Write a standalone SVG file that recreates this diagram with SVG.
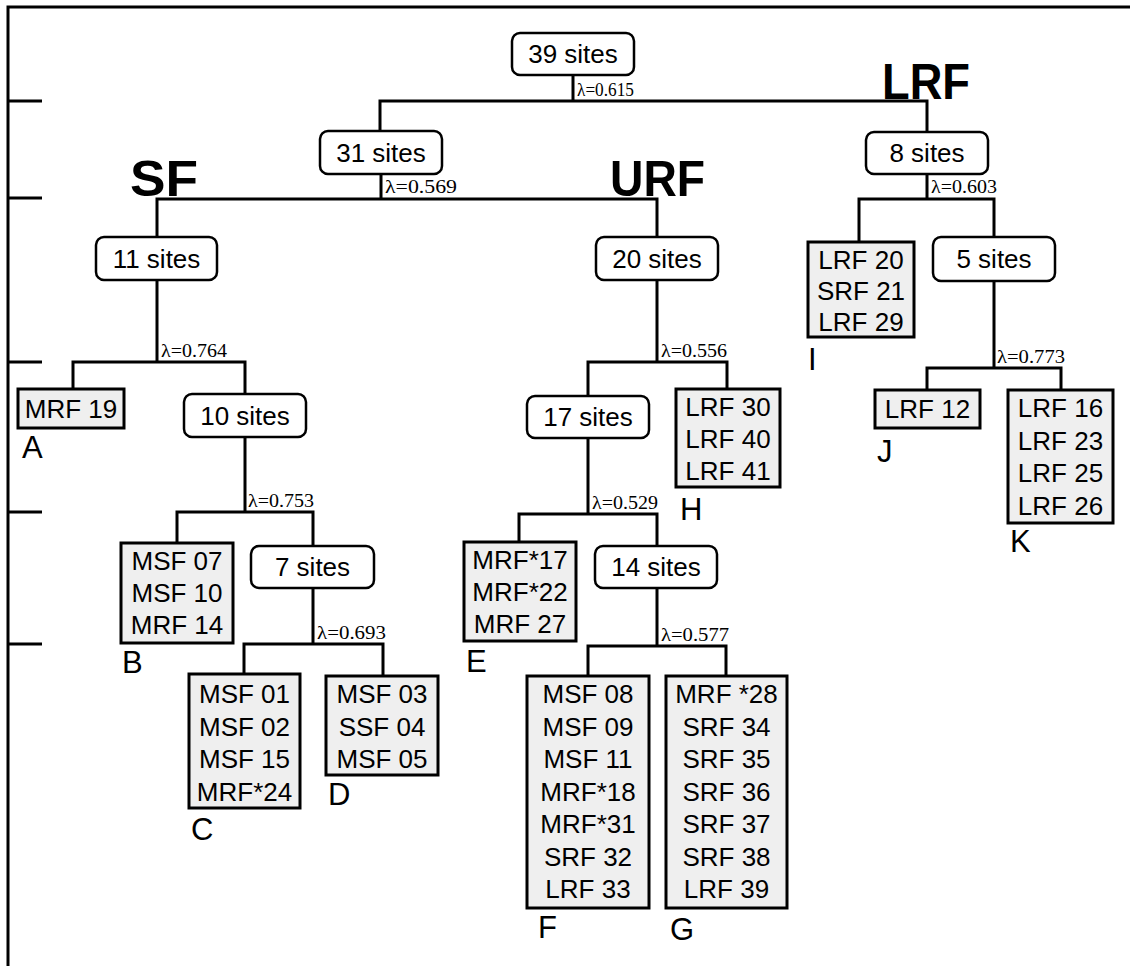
<svg xmlns="http://www.w3.org/2000/svg" width="1130" height="966" viewBox="0 0 1130 966">
<style>
.frame{fill:none;stroke:#000;stroke-width:3}
.ln{fill:none;stroke:#000;stroke-width:3;stroke-linecap:square}
.site{fill:#fff;stroke:#000;stroke-width:2.5}
.leaf{fill:#efefef;stroke:#000;stroke-width:3}
.t{font-family:"Liberation Sans",Arial,sans-serif;font-size:26px;fill:#000;text-anchor:middle}
.lam{font-family:"Liberation Serif","Times New Roman",serif;font-size:19px;fill:#000}
.big{font-family:"Liberation Sans",Arial,sans-serif;font-size:50px;font-weight:bold;fill:#000}
.let{font-family:"Liberation Sans",Arial,sans-serif;font-size:31px;fill:#000}
</style>
<rect width="1130" height="966" fill="#fff"/>
<g id="frame">
<path class="frame" d="M8,966 V7 H1130"/>
<path class="frame" d="M8,101 H42 M8,198 H42 M8,362 H42 M8,512 H42 M8,644 H42"/>
</g>
<g id="connectors">
<path class="ln" d="M573,75 V101 M380,101 H927 M380,101 V131 M927,101 V132"/>
<path class="ln" d="M381,174 V199 M157,199 H657 M157,199 V237 M657,199 V237"/>
<path class="ln" d="M927,174 V199 M859,199 H994 M859,199 V242 M994,199 V237"/>
<path class="ln" d="M157,280 V362 M73,362 H245 M73,362 V389 M245,362 V394"/>
<path class="ln" d="M245,437 V512 M177,512 H313 M177,512 V543 M313,512 V546"/>
<path class="ln" d="M313,588 V644 M244,644 H383 M244,644 V674 M383,644 V676"/>
<path class="ln" d="M657,280 V362 M588,362 H727 M588,362 V396 M727,362 V389"/>
<path class="ln" d="M588,438 V514 M519,514 H657 M519,514 V542 M657,514 V546"/>
<path class="ln" d="M657,588 V646 M588,646 H726 M588,646 V676 M726,646 V676"/>
<path class="ln" d="M994,281 V368 M927,368 H1061 M927,368 V390 M1061,368 V390"/>
<text class="lam" x="577" y="96" textLength="57" lengthAdjust="spacingAndGlyphs">λ=0.615</text>
<text class="lam" x="385" y="193" textLength="72" lengthAdjust="spacingAndGlyphs">λ=0.569</text>
<text class="lam" x="931" y="193" textLength="66" lengthAdjust="spacingAndGlyphs">λ=0.603</text>
<text class="lam" x="161" y="357" textLength="66" lengthAdjust="spacingAndGlyphs">λ=0.764</text>
<text class="lam" x="661" y="357" textLength="66" lengthAdjust="spacingAndGlyphs">λ=0.556</text>
<text class="lam" x="997" y="363" textLength="68" lengthAdjust="spacingAndGlyphs">λ=0.773</text>
<text class="lam" x="248" y="507" textLength="66" lengthAdjust="spacingAndGlyphs">λ=0.753</text>
<text class="lam" x="592" y="509" textLength="66" lengthAdjust="spacingAndGlyphs">λ=0.529</text>
<text class="lam" x="317" y="639" textLength="69" lengthAdjust="spacingAndGlyphs">λ=0.693</text>
<text class="lam" x="661" y="641" textLength="68" lengthAdjust="spacingAndGlyphs">λ=0.577</text>
</g>
<g id="groups">
<text class="big" x="130" y="196" textLength="68" lengthAdjust="spacingAndGlyphs">SF</text>
<text class="big" x="610" y="196" textLength="95" lengthAdjust="spacingAndGlyphs">URF</text>
<text class="big" x="882" y="99" textLength="88" lengthAdjust="spacingAndGlyphs">LRF</text>
</g>
<g id="n39"><rect class="site" x="512" y="33" width="122" height="42" rx="8"/><text class="t" x="573" y="63">39 sites</text></g>
<g id="n31"><rect class="site" x="320" y="131" width="122" height="43" rx="8"/><text class="t" x="381" y="162">31 sites</text></g>
<g id="n8"><rect class="site" x="866" y="132" width="122" height="42" rx="8"/><text class="t" x="927" y="162">8 sites</text></g>
<g id="n11"><rect class="site" x="96" y="237" width="121" height="43" rx="8"/><text class="t" x="156.5" y="268">11 sites</text></g>
<g id="n20"><rect class="site" x="596" y="237" width="122" height="43" rx="8"/><text class="t" x="657" y="268">20 sites</text></g>
<g id="n5"><rect class="site" x="933" y="237" width="122" height="44" rx="8"/><text class="t" x="994" y="268">5 sites</text></g>
<g id="n10"><rect class="site" x="184" y="394" width="122" height="43" rx="8"/><text class="t" x="245" y="425">10 sites</text></g>
<g id="n17"><rect class="site" x="527" y="396" width="122" height="42" rx="8"/><text class="t" x="588" y="426">17 sites</text></g>
<g id="n7"><rect class="site" x="251" y="546" width="123" height="42" rx="8"/><text class="t" x="312.5" y="576">7 sites</text></g>
<g id="n14"><rect class="site" x="595" y="546" width="122" height="42" rx="8"/><text class="t" x="656" y="576">14 sites</text></g>
<g id="leafA"><rect class="leaf" x="18" y="389" width="106" height="39"/><text class="t" x="71" y="418">MRF 19</text><text class="let" x="22" y="458">A</text></g>
<g id="leafB"><rect class="leaf" x="121" y="543" width="112" height="100"/><text class="t" x="177" y="570">MSF 07</text><text class="t" x="177" y="602">MSF 10</text><text class="t" x="177" y="634">MRF 14</text><text class="let" x="122" y="673">B</text></g>
<g id="leafC"><rect class="leaf" x="189" y="674" width="111" height="134"/><text class="t" x="244.5" y="703">MSF 01</text><text class="t" x="244.5" y="736">MSF 02</text><text class="t" x="244.5" y="768">MSF 15</text><text class="t" x="244.5" y="801">MRF*24</text><text class="let" x="191" y="840">C</text></g>
<g id="leafD"><rect class="leaf" x="326" y="676" width="112" height="99"/><text class="t" x="382" y="703">MSF 03</text><text class="t" x="382" y="736">SSF 04</text><text class="t" x="382" y="768">MSF 05</text><text class="let" x="328" y="805">D</text></g>
<g id="leafE"><rect class="leaf" x="464" y="542" width="112" height="99"/><text class="t" x="520" y="569">MRF*17</text><text class="t" x="520" y="601">MRF*22</text><text class="t" x="520" y="633">MRF 27</text><text class="let" x="466" y="672">E</text></g>
<g id="leafF"><rect class="leaf" x="527" y="676" width="122" height="232"/><text class="t" x="588" y="703">MSF 08</text><text class="t" x="588" y="736">MSF 09</text><text class="t" x="588" y="768">MSF 11</text><text class="t" x="588" y="801">MRF*18</text><text class="t" x="588" y="833">MRF*31</text><text class="t" x="588" y="866">SRF 32</text><text class="t" x="588" y="898">LRF 33</text><text class="let" x="538" y="938">F</text></g>
<g id="leafG"><rect class="leaf" x="666" y="676" width="121" height="232"/><text class="t" x="726.5" y="703">MRF *28</text><text class="t" x="726.5" y="736">SRF 34</text><text class="t" x="726.5" y="768">SRF 35</text><text class="t" x="726.5" y="801">SRF 36</text><text class="t" x="726.5" y="833">SRF 37</text><text class="t" x="726.5" y="866">SRF 38</text><text class="t" x="726.5" y="898">LRF 39</text><text class="let" x="670" y="940">G</text></g>
<g id="leafH"><rect class="leaf" x="676" y="389" width="104" height="98"/><text class="t" x="728" y="416">LRF 30</text><text class="t" x="728" y="448">LRF 40</text><text class="t" x="728" y="480">LRF 41</text><text class="let" x="680" y="520">H</text></g>
<g id="leafI"><rect class="leaf" x="808" y="242" width="106" height="95"/><text class="t" x="861" y="269">LRF 20</text><text class="t" x="861" y="300">SRF 21</text><text class="t" x="861" y="331">LRF 29</text><text class="let" x="808" y="370">I</text></g>
<g id="leafJ"><rect class="leaf" x="875" y="390" width="105" height="38"/><text class="t" x="927.5" y="418">LRF 12</text><text class="let" x="877" y="462">J</text></g>
<g id="leafK"><rect class="leaf" x="1008" y="390" width="105" height="133"/><text class="t" x="1060.5" y="417">LRF 16</text><text class="t" x="1060.5" y="450">LRF 23</text><text class="t" x="1060.5" y="482">LRF 25</text><text class="t" x="1060.5" y="515">LRF 26</text><text class="let" x="1010" y="552">K</text></g>
</svg>
